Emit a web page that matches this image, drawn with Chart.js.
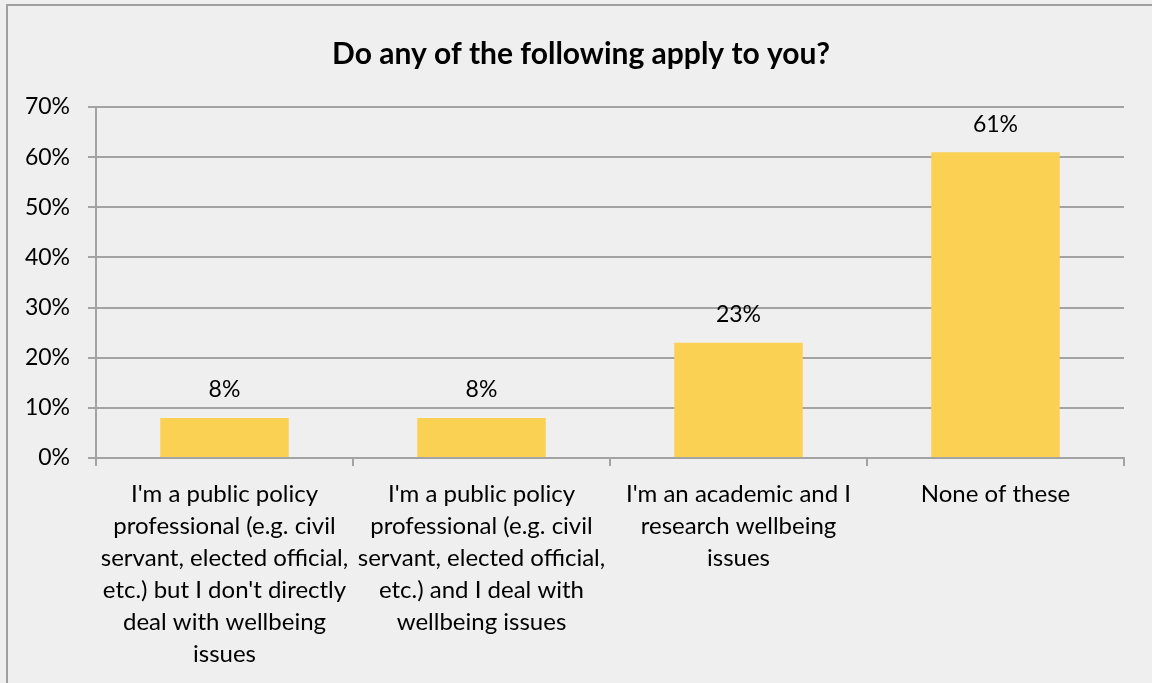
<!DOCTYPE html>
<html>
<head>
<meta charset="utf-8">
<title>Do any of the following apply to you?</title>
<script src="https://cdn.jsdelivr.net/npm/chart.js@4"></script>
<style>
  html, body { margin: 0; padding: 0; background: #efefef; }
  #grafico { display: block; }
</style>
</head>
<body>
<canvas id="grafico" width="1152" height="683"></canvas>
<script>
// dados do gráfico
const titulo = "Do any of the following apply to you?";
const categorias = [
  ["I'm a public policy", "professional (e.g. civil", "servant, elected official,", "etc.) but I don't directly", "deal with wellbeing", "issues"],
  ["I'm a public policy", "professional (e.g. civil", "servant, elected official,", "etc.) and I deal with", "wellbeing issues"],
  ["I'm an academic and I", "research wellbeing", "issues"],
  ["None of these"]
];
const percentuais = [8, 8, 23, 61];
const ticksY = [0, 10, 20, 30, 40, 50, 60, 70];

const fonte = "Lato, 'Open Sans', sans-serif";
const cinza = "#a3a3a3";

// fundo, moldura e título desenhados direto no canvas
const molduraPlugin = {
  id: "moldura",
  beforeDraw(chart) {
    const ctx = chart.ctx;
    ctx.save();
    ctx.fillStyle = "#efefef";
    ctx.fillRect(0, 0, chart.width, chart.height);
    ctx.strokeStyle = "#a0a0a0";
    ctx.lineWidth = 2;
    ctx.beginPath();
    ctx.moveTo(7, chart.height);
    ctx.lineTo(7, 5);
    ctx.lineTo(chart.width, 5);
    ctx.stroke();
    ctx.fillStyle = "#000";
    ctx.font = "bold 30px " + fonte;
    ctx.textAlign = "center";
    ctx.textBaseline = "middle";
    ctx.fillText(titulo, 581, 54);
    ctx.restore();
  }
};

// rótulos de valor acima de cada barra
const rotulosPlugin = {
  id: "rotulos",
  afterDatasetsDraw(chart) {
    const ctx = chart.ctx;
    const meta = chart.getDatasetMeta(0);
    ctx.save();
    ctx.fillStyle = "#000";
    ctx.font = "23px " + fonte;
    ctx.textAlign = "center";
    ctx.textBaseline = "middle";
    meta.data.forEach((barra, i) => {
      ctx.fillText(percentuais[i] + "%", barra.x, barra.y - 28);
    });
    ctx.restore();
  }
};

const ctx = document.getElementById("grafico").getContext("2d");
const grafico = new Chart(ctx, {
  type: "bar",
  data: {
    labels: categorias,
    datasets: [{
      data: percentuais,
      backgroundColor: "#fbd154",
      borderWidth: 0,
      barPercentage: 0.5,
      categoryPercentage: 1
    }]
  },
  options: {
    responsive: false,
    animation: false,
    layout: {
      padding: { top: 107, right: 28, bottom: 0, left: 0 }
    },
    plugins: {
      legend: { display: false },
      title: { display: false },
      tooltip: { enabled: false }
    },
    scales: {
      x: {
        afterFit(scale) { scale.height = 683 - 458; },
        grid: {
          drawOnChartArea: false,
          drawTicks: true,
          tickLength: 8,
          offset: true,
          color: cinza,
          lineWidth: 2
        },
        border: { color: cinza, width: 2 },
        ticks: {
          color: "#000",
          maxRotation: 0,
          autoSkip: false,
          padding: 12,
          font: { family: fonte, size: 24, lineHeight: "32px" }
        }
      },
      y: {
        min: 0,
        max: 70,
        afterFit(scale) { scale.width = 96; },
        afterBuildTicks(scale) { scale.ticks = ticksY.map(v => ({ value: v })); },
        grid: {
          color: cinza,
          lineWidth: 2,
          tickLength: 8
        },
        border: { color: cinza, width: 2 },
        ticks: {
          color: "#000",
          padding: 18,
          font: { family: fonte, size: 23 },
          callback: v => v + "%"
        }
      }
    }
  },
  plugins: [molduraPlugin, rotulosPlugin]
});
</script>
</body>
</html>
